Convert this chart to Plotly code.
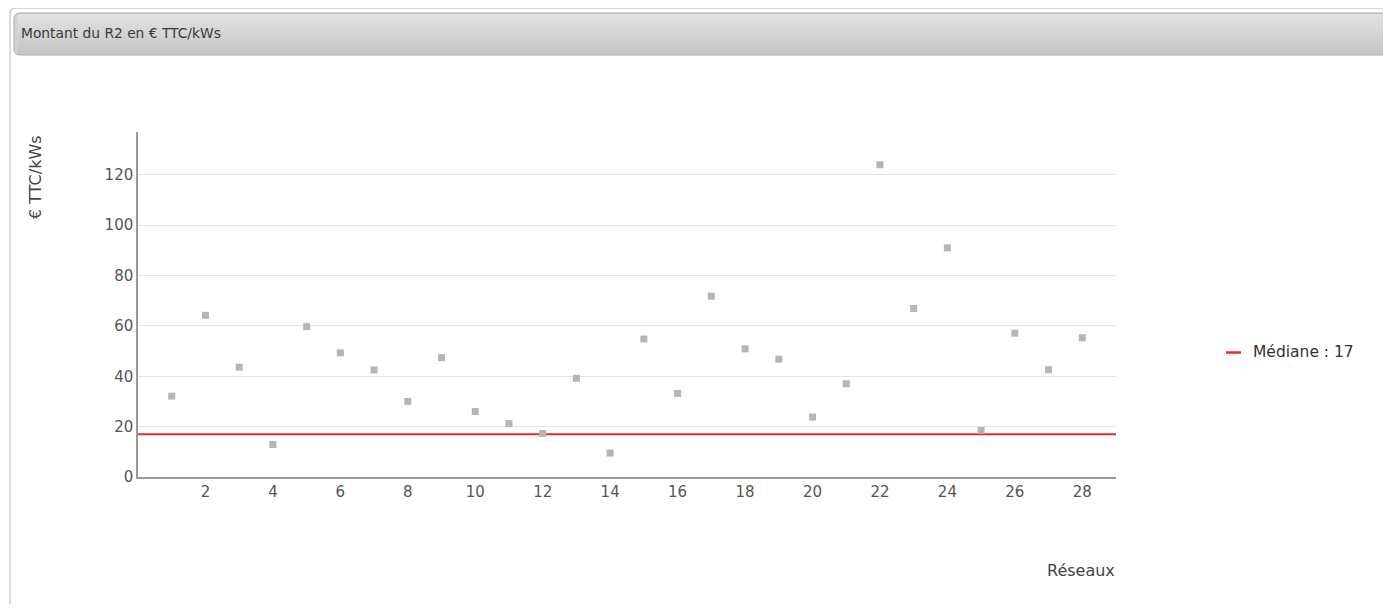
import plotly.graph_objects as go

# ---- data ----
reseaux = list(range(1, 29))
montants = [32.1, 64.2, 43.6, 12.9, 59.7, 49.3, 42.5, 30.0, 47.4, 26.0,
            21.2, 17.3, 39.2, 9.5, 54.8, 33.2, 71.8, 50.9, 46.8, 23.8,
            37.0, 124.0, 66.9, 91.0, 18.5, 57.1, 42.6, 55.3]
mediane = 17
x_ticks = list(range(2, 29, 2))
y_ticks = [0, 20, 40, 60, 80, 100, 120]
titre = "Montant du R2 en € TTC/kWs"
titre_y = "€ TTC/kWs"
titre_x = "Réseaux"
legende = f"Médiane : {mediane}"

# page geometry (the page body adds an 8px offset to the figure)
PAGE_W, PAGE_H = 1391, 612
OFF = 8
W, H = PAGE_W, PAGE_H - 2 * OFF
L, R, T, B = 138, 1116, 132, 477   # plot area in page pixels
XR = [0, 29]
YR = [0, 137]


def px(x):
    return (x - L) / (R - L)


def py(y):
    return (B - y) / (B - T)


FONT = "DejaVu Sans"

fig = go.Figure()

fig.add_trace(go.Scatter(
    x=XR, y=[mediane, mediane], mode="lines",
    line=dict(color="#e8292e", width=2), hoverinfo="skip", showlegend=False,
))
fig.add_trace(go.Scatter(
    x=reseaux, y=montants, mode="markers",
    marker=dict(symbol="square", size=7, color="#b5b5b5"),
    showlegend=False,
))

shapes = []
# outer panel border
shapes.append(dict(type="path", xref="paper", yref="paper",
                   path=f"M {px(1420)},{py(8)} L {px(16)},{py(8)} Q {px(10)},{py(8)} {px(10)},{py(14)} L {px(10)},{py(620)}",
                   line=dict(color="#cfcfcf", width=1.5), layer="below"))
# header bar base (rounded left)
hx0, hy0, hy1, r = 14, 13, 55, 6
shapes.append(dict(type="path", xref="paper", yref="paper",
                   path=(f"M {px(1420)},{py(hy0)} L {px(hx0 + r)},{py(hy0)} "
                         f"Q {px(hx0)},{py(hy0)} {px(hx0)},{py(hy0 + r)} "
                         f"L {px(hx0)},{py(hy1 - r)} Q {px(hx0)},{py(hy1)} {px(hx0 + r)},{py(hy1)} "
                         f"L {px(1420)},{py(hy1)} Z"),
                   fillcolor="#d2d2d2", line=dict(color="#a9a9a9", width=1), layer="below"))
# gradient bands
n = 20
top_c = (226, 226, 226)
bot_c = (198, 198, 198)
for i in range(n):
    t = i / (n - 1)
    c = tuple(int(top_c[k] + (bot_c[k] - top_c[k]) * t) for k in range(3))
    y0 = hy0 + 1 + (hy1 - hy0 - 2) * i / n
    y1 = hy0 + 1 + (hy1 - hy0 - 2) * (i + 1) / n
    shapes.append(dict(type="rect", xref="paper", yref="paper",
                       x0=px(hx0 + 4), x1=px(1420), y0=py(y0), y1=py(y1),
                       fillcolor=f"rgb{c}", line=dict(width=0), layer="below"))
# legend swatch
shapes.append(dict(type="line", xref="paper", yref="paper",
                   x0=px(1226), x1=px(1241), y0=py(352.5), y1=py(352.5),
                   line=dict(color="#e8292e", width=2.5)))

annotations = [
    dict(text=titre, xref="paper", yref="paper", x=px(19), y=py(33),
         xanchor="left", yanchor="middle", showarrow=False,
         font=dict(family=FONT, size=13.8, color="#3a3a3a")),
    dict(text=titre_y, xref="paper", yref="paper", x=px(35), y=py(133),
         xanchor="center", yanchor="top", textangle=-90, showarrow=False,
         font=dict(family=FONT, size=16, color="#444")),
    dict(text=titre_x, xref="paper", yref="paper", x=px(1117), y=py(570),
         xanchor="right", yanchor="middle", showarrow=False,
         font=dict(family=FONT, size=16, color="#444")),
    dict(text=legende, xref="paper", yref="paper", x=px(1251), y=py(352),
         xanchor="left", yanchor="middle", showarrow=False,
         font=dict(family=FONT, size=15.5, color="#333")),
]

fig.update_layout(
    width=W, height=H,
    margin=dict(l=L - OFF, r=W - (R - OFF), t=T - OFF, b=H - (B - OFF), pad=0),
    paper_bgcolor="white", plot_bgcolor="white",
    shapes=shapes, annotations=annotations,
    showlegend=False,
    font=dict(family=FONT, size=15, color="#555"),
    xaxis=dict(range=XR, tickvals=x_ticks, showgrid=False, zeroline=False,
               showline=True, linecolor="#9a9a9a", linewidth=1.5,
               ticks="", ticklen=0, tickfont=dict(size=15, color="#555")),
    yaxis=dict(range=YR, tickvals=y_ticks, showgrid=True, gridcolor="#e4e4e4",
               gridwidth=1, zeroline=False, showline=True, linecolor="#9a9a9a",
               linewidth=1.5, ticks="", tickfont=dict(size=15, color="#555")),
)

fig.write_html("out.html")
